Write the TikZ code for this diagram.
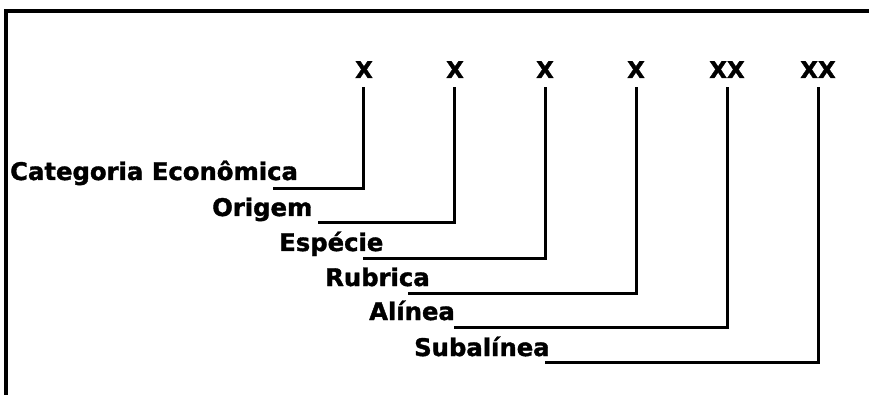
\documentclass[tikz,border=0pt]{standalone}
\usepackage{fontspec}
\setmainfont{DejaVu Sans}[BoldFeatures={FakeBold=1.5}]
\begin{document}
\begin{tikzpicture}[x=1pt,y=-1pt,
  lbl/.style={font=\fontsize{24.3}{28}\selectfont\bfseries, inner sep=0pt, anchor=base west},
  code/.style={font=\fontsize{23}{28}\selectfont\bfseries, inner sep=0pt, anchor=base},
  conn/.style={line width=3pt},
  frame/.style={line width=4pt}]
\useasboundingbox (0,0) rectangle (869,395);
% frame
\coordinate (fb) at (6,397);
\coordinate (fc) at (6,11);
\coordinate (fr) at (871,11);
\draw[frame] (fb) -- (fc) -- (fr);
% codes
\node[code] (x1) at (364,78) {X};
\node[code] (x2) at (455,78) {X};
\node[code] (x3) at (545,78) {X};
\node[code] (x4) at (636,78) {X};
\node[code] (x5) at (727,78) {XX};
\node[code] (x6) at (818,78) {XX};
% labels
\node[lbl] (l1) at (10,180) {Categoria Econômica};
\node[lbl] (l2) at (212,216) {Origem};
\node[lbl] (l3) at (279,251) {Espécie};
\node[lbl] (l4) at (325,286) {Rubrica};
\node[lbl] (l5) at (369,320) {Alínea};
\node[lbl] (l6) at (414,356) {Subalínea};
% connector points
\foreach \i/\c in {1/363,2/454,3/545,4/636,5/727,6/818}
  \coordinate (t\i) at (\c,87);
\coordinate (h1) at (273,189);
\coordinate (h2) at (318,223);
\coordinate (h3) at (363,258);
\coordinate (h4) at (408,293);
\coordinate (h5) at (454,327);
\coordinate (h6) at (545,362);
\foreach \i in {1,...,6}
  \draw[conn] (h\i) -| (t\i);
\end{tikzpicture}
\end{document}
